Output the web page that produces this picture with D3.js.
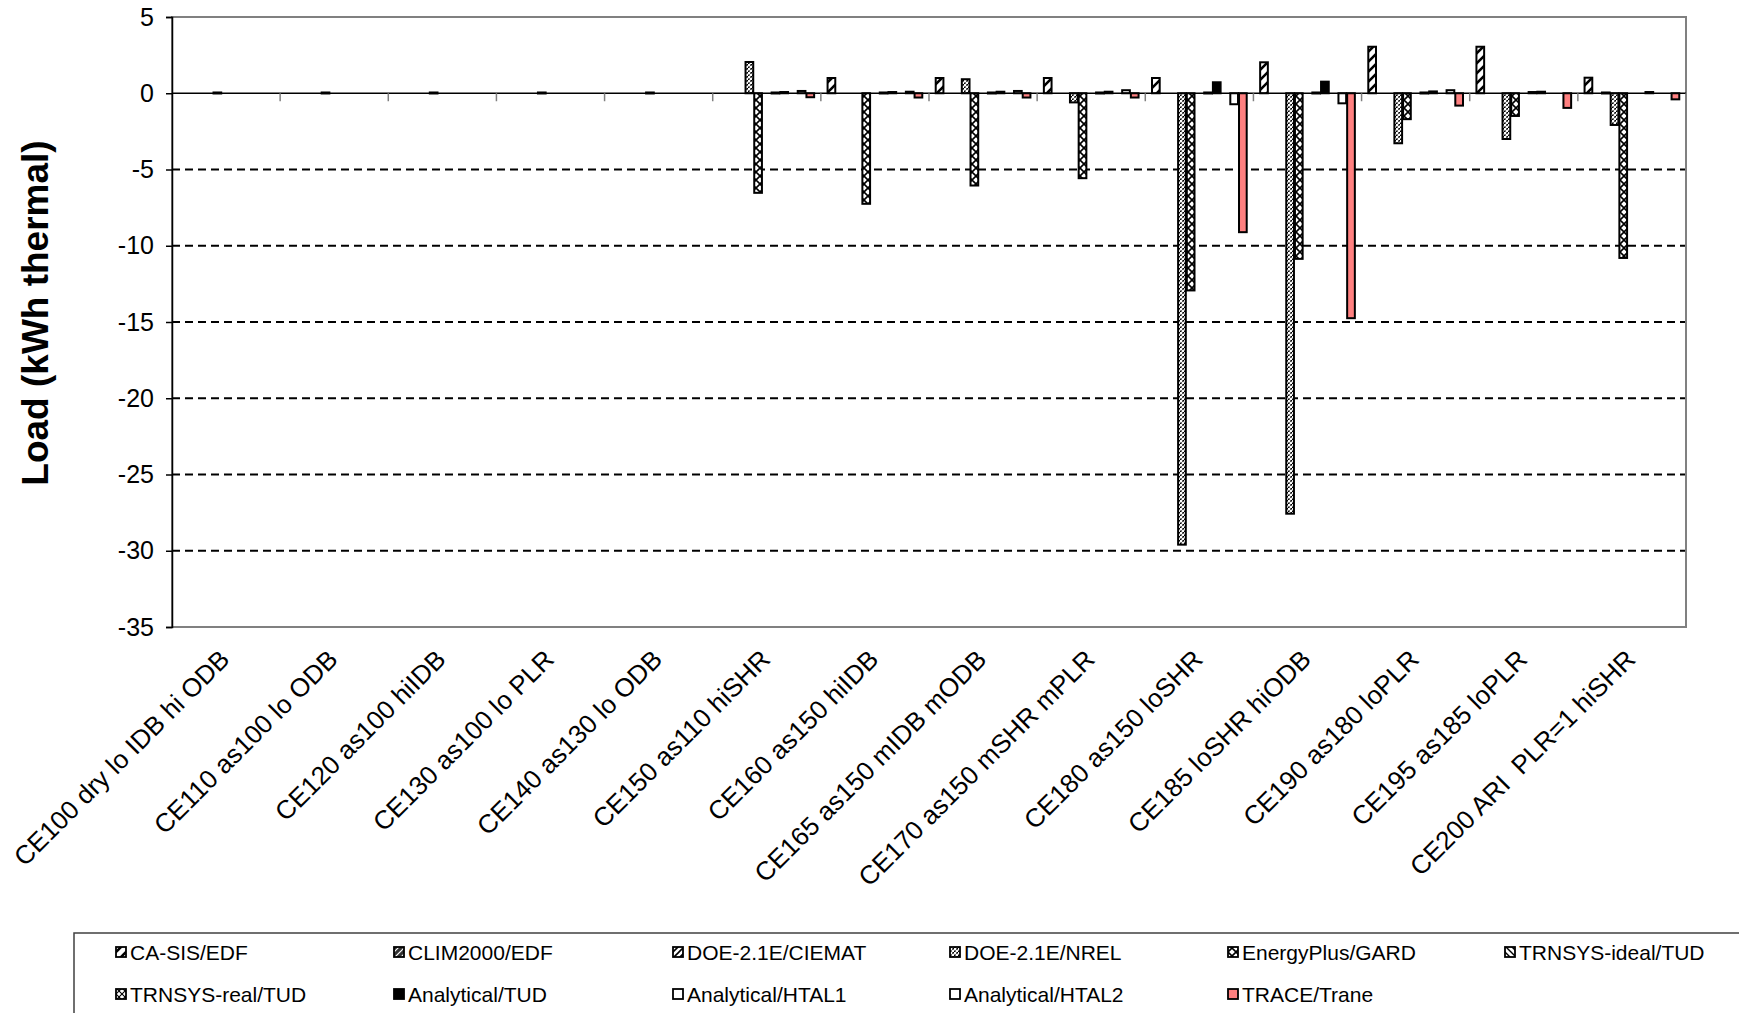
<!DOCTYPE html>
<html><head><meta charset="utf-8">
<script src="https://cdn.jsdelivr.net/npm/d3@7"></script>
<style>
body{margin:0;background:#fff}
text{font-family:"Liberation Sans",Arial,sans-serif;fill:#000}
</style>
</head><body>
<svg id="c" width="1739" height="1013"></svg>
<script>
const categories=["CE100 dry lo IDB hi ODB","CE110 as100 lo ODB","CE120 as100 hiIDB","CE130 as100 lo PLR","CE140 as130 lo ODB","CE150 as110 hiSHR","CE160 as150 hiIDB","CE165 as150 mIDB mODB","CE170 as150 mSHR mPLR","CE180 as150 loSHR","CE185 loSHR hiODB","CE190 as180 loPLR","CE195 as185 loPLR","CE200 ARI  PLR=1 hiSHR"];
const seriesNames=["CA-SIS/EDF","CLIM2000/EDF","DOE-2.1E/CIEMAT","DOE-2.1E/NREL","EnergyPlus/GARD","TRNSYS-ideal/TUD","TRNSYS-real/TUD","Analytical/TUD","Analytical/HTAL1","Analytical/HTAL2","TRACE/Trane"];
const n=null;
const caSisEdf      =[n,n,n,n,n,n,1.0,1.0,1.0,1.0,2.03,3.05,3.05,1.02];
const clim2000Edf   =[n,n,n,n,n,n,n,n,n,n,n,n,n,n];
const doeCiemat     =[n,n,n,n,n,n,n,n,n,n,n,n,n,0.05];
const doeNrel       =[n,n,n,n,n,2.05,n,0.92,-0.6,-29.6,-27.57,-3.28,-3.0,-2.08];
const energyPlusGard=[0.05,0.05,0.05,0.05,0.05,-6.53,-7.25,-6.05,-5.57,-12.93,-10.86,-1.7,-1.49,-10.8];
const trnsysIdeal   =[n,n,n,n,n,n,n,n,n,n,n,n,n,n];
const trnsysReal    =[n,n,n,n,n,0.05,0.05,0.05,0.05,0.05,0.05,0.05,0.08,n];
const analyticalTud =[n,n,n,n,n,0.08,0.08,0.1,0.1,0.72,0.76,0.12,0.1,0.08];
const analyticalHtal1=[n,n,n,n,n,n,n,n,n,n,n,n,n,n];
const analyticalHtal2=[n,n,n,n,n,0.15,0.1,0.15,0.2,-0.72,-0.66,0.2,n,n];
const traceTrane    =[n,n,n,n,n,-0.26,-0.28,-0.28,-0.28,-9.11,-14.75,-0.81,-0.96,-0.4];
const seriesValues=[caSisEdf,clim2000Edf,doeCiemat,doeNrel,energyPlusGard,trnsysIdeal,trnsysReal,analyticalTud,analyticalHtal1,analyticalHtal2,traceTrane];
const yTicks=[5,0,-5,-10,-15,-20,-25,-30,-35];
const gridTicks=[-5,-10,-15,-20,-25,-30];

const svg=d3.select("#c");
const L=172,R=1686,T=17,B=627;
const x0=d3.scaleBand().domain(categories).range([L,R]).paddingInner(0).paddingOuter(0);
const x1=d3.scaleBand().domain(d3.range(seriesNames.length)).range([0,x0.bandwidth()]).paddingInner(0).paddingOuter(0.715);
const y=d3.scaleLinear().domain([-35,5]).range([B,T]);

// patterns
const defs=svg.append("defs");
function pat(id,size,bg,paths,sw,dash){
  const p=defs.append("pattern").attr("id",id).attr("patternUnits","userSpaceOnUse").attr("width",size).attr("height",size);
  p.append("rect").attr("width",size).attr("height",size).attr("fill",bg);
  if(paths){const e=p.append("path").attr("d",paths).attr("stroke",bg==="#333"?"#fff":"#000").attr("stroke-width",sw).attr("fill","none");
   if(dash)e.attr("stroke-dasharray",dash);}
}
pat("p0",10,"#fff","M-5,5 L5,-5 M0,10 L10,0 M5,15 L15,5",2.6);
pat("p1",6,"#333","M0,6 L6,0 M-3,3 L3,-3 M3,9 L9,3",1.2);
pat("p2",6,"#fff","M0,6 L6,0 M-3,3 L3,-3 M3,9 L9,3",1.6);
pat("p3",4,"#fff","M0,4 L4,0 M-2,2 L2,-2 M2,6 L6,2",1.5,"2.2,1.2");
pat("p4",8,"#fff","M0,0 L8,8 M8,0 L0,8",1.6);
pat("p5",6,"#fff","M0,0 L6,6 M-3,3 L3,9 M3,-3 L9,3",1.4);
pat("p6",6,"#fff","M0,0 L6,6 M6,0 L0,6",1.1);
const fills=["url(#p0)","url(#p1)","url(#p2)","url(#p3)","url(#p4)","url(#p5)","url(#p6)","#000","#fff","#fff","#FF8080"];

// gridlines
svg.append("g").selectAll("line").data(gridTicks).join("line")
  .attr("x1",L).attr("x2",R).attr("y1",d=>y(d)).attr("y2",d=>y(d))
  .attr("stroke","#000").attr("stroke-width",2).attr("stroke-dasharray","8,5");

// plot border
svg.append("rect").attr("x",L).attr("y",T).attr("width",R-L).attr("height",B-T)
  .attr("fill","none").attr("stroke","#808080").attr("stroke-width",2);

// bars
const bw=x1.bandwidth();
seriesValues.forEach((vals,j)=>{
  svg.append("g").selectAll("rect").data(categories.map((c,i)=>({c,v:vals[i]})).filter(d=>d.v!==null)).join("rect")
    .attr("x",d=>x0(d.c)+x1(j)+0.5)
    .attr("width",bw-1)
    .attr("y",d=>Math.min(y(d.v),y(0)))
    .attr("height",d=>Math.max(1,Math.abs(y(d.v)-y(0))))
    .attr("fill",fills[j]).attr("stroke","#000").attr("stroke-width",2);
});

// zero axis line and category ticks
svg.append("line").attr("x1",L).attr("x2",R).attr("y1",y(0)).attr("y2",y(0)).attr("stroke","#000").attr("stroke-width",1.5);
const bounds=categories.map(c=>x0(c)).concat([R]);
svg.append("g").selectAll("line").data(bounds).join("line")
  .attr("x1",d=>d).attr("x2",d=>d).attr("y1",y(0)).attr("y2",y(0)+8)
  .attr("stroke","#808080").attr("stroke-width",1.5);

// y axis
const ya=svg.append("g").attr("transform",`translate(${L},0)`)
  .call(d3.axisLeft(y).tickValues(yTicks).tickSize(6).tickPadding(12).tickFormat(d=>String(d)));
ya.select(".domain").attr("stroke","#000").attr("stroke-width",1.5);
ya.selectAll(".tick line").attr("stroke","#000").attr("stroke-width",1.5);
ya.selectAll(".tick text").style("font-size","25px").style("font-family","'Liberation Sans',Arial,sans-serif").attr("fill","#000");

// y title
svg.append("text").attr("transform","translate(48,313) rotate(-90)").attr("text-anchor","middle")
  .style("font-size","37px").style("font-weight","bold").text("Load (kWh thermal)");

// x labels
svg.append("g").selectAll("text").data(categories).join("text")
  .attr("transform",d=>`translate(${x0(d)+x0.bandwidth()/2+5},${B+34}) rotate(-45)`)
  .attr("text-anchor","end").style("font-size","26px").style("white-space","pre").text(d=>d);

// legend
svg.append("rect").attr("x",74).attr("y",933).attr("width",1700).attr("height",120)
  .attr("fill","none").attr("stroke","#404040").attr("stroke-width",1.5);
const colX=[116,394,673,950,1228,1505], rowY=[952,994];
const lg=svg.append("g").selectAll("g").data(seriesNames).join("g")
  .attr("transform",(d,i)=>`translate(${colX[i%6]},${rowY[Math.floor(i/6)]})`);
lg.append("rect").attr("x",0).attr("y",-5).attr("width",10).attr("height",10)
  .attr("fill",(d,i)=>fills[i]).attr("stroke","#000").attr("stroke-width",1.8);
lg.append("text").attr("x",14).attr("y",7.5).style("font-size","21px").text(d=>d);
</script>
</body></html>
